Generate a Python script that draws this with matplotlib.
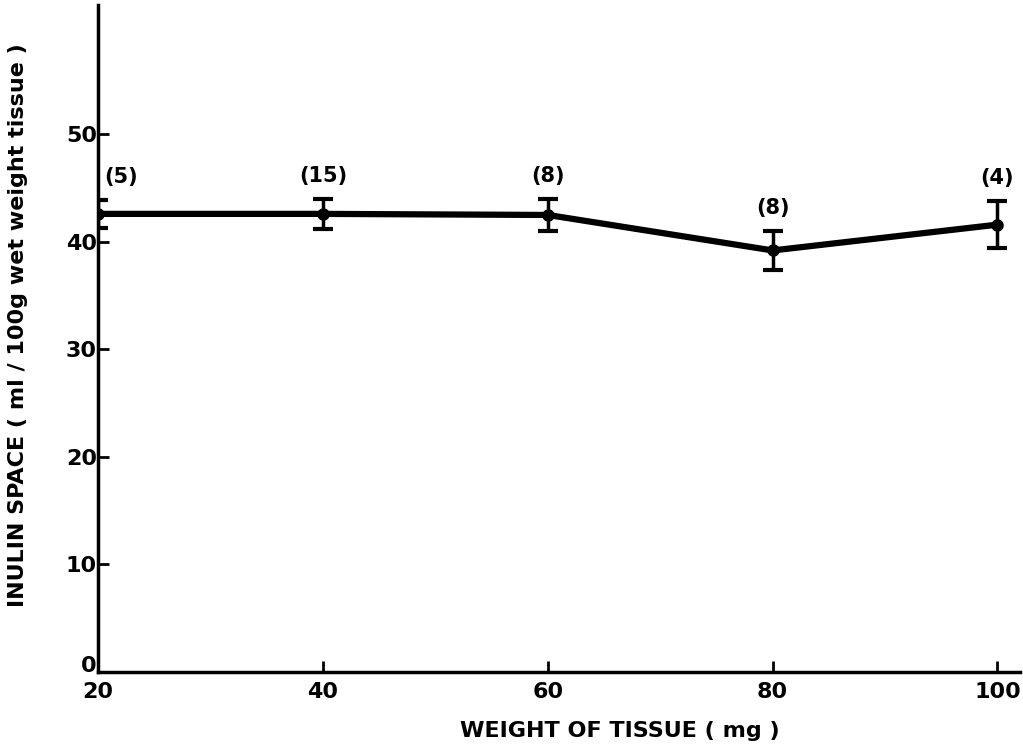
import matplotlib
matplotlib.use("Agg")
import matplotlib.pyplot as plt
import matplotlib.transforms as mtransforms

weight = [20, 40, 60, 80, 100]
inulin = [42.6, 42.6, 42.5, 39.2, 41.6]
err = [1.3, 1.4, 1.5, 1.8, 2.2]
n_labels = ["(5)", "(15)", "(8)", "(8)", "(4)"]
xticks = [20, 40, 60, 80, 100]
yticks = [0, 10, 20, 30, 40, 50]

plt.rcParams['font.family'] = ['DejaVu Sans']
fig = plt.figure(figsize=(10.23, 7.55), dpi=100)
ax = fig.add_axes([0.096, 0.110, 0.901, 0.883])

ax.errorbar(weight, inulin, yerr=err, color='black', lw=4.5, elinewidth=2.5,
            capsize=7, capthick=3, marker='o', markersize=8, zorder=3)

for x, y, e, lab in zip(weight, inulin, err, n_labels):
    dx = 2 if x == 20 else 0
    ax.text(x + dx, y + e + 1.2, lab, ha='center', va='bottom',
            fontsize=15, fontweight='bold')

ax.set_xlim(20, 102)
ax.set_ylim(0, 62)
ax.set_xticks(xticks)
ax.set_yticks(yticks)
ax.set_xticklabels([str(t) for t in xticks], fontsize=16, fontweight='bold')
ax.set_yticklabels([str(t) for t in yticks], fontsize=16, fontweight='bold')
ax.tick_params(axis='both', direction='in', length=8, width=2)
ax.tick_params(axis='x', pad=7)
ax.tick_params(axis='y', pad=1)
for s in ['top', 'right']:
    ax.spines[s].set_visible(False)
for s in ['left', 'bottom']:
    ax.spines[s].set_linewidth(2.5)

# lift the "0" label a little so it clears the "20" below it
zero_lab = ax.get_yticklabels()[0]
zero_lab.set_transform(zero_lab.get_transform() +
                       mtransforms.ScaledTranslation(0, 6 / 72, fig.dpi_scale_trans))

fig.text(0.606, 0.018, "WEIGHT OF TISSUE ( mg )", ha='center', va='bottom',
         fontsize=16, fontweight='bold')
fig.text(0.018, 0.57, "INULIN SPACE ( ml / 100g wet weight tissue )", ha='center',
         va='center', rotation=90, fontsize=16, fontweight='bold')

fig.savefig("out.png", dpi=100)
